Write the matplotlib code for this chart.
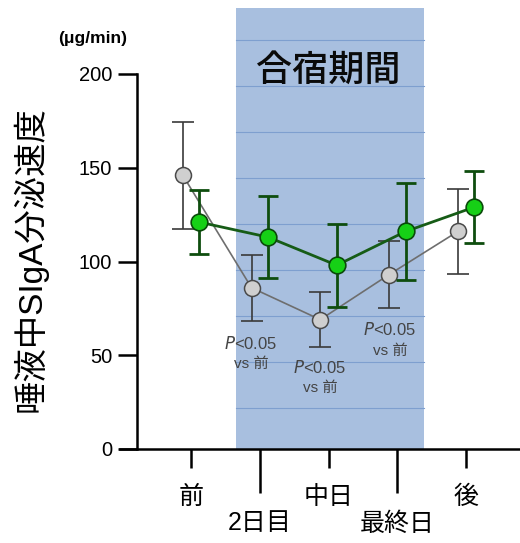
import matplotlib
matplotlib.use("Agg")
import matplotlib.pyplot as plt
import numpy as np

plt.rcParams["font.family"] = ["Liberation Sans", "Noto Sans CJK JP"]

# categories and values
CATEGORIES = ["前", "2日目", "中日", "最終日", "後"]
GRAY_MEAN = [146, 86, 69, 93, 116]
GRAY_ERR = [28.5, 17.5, 14.5, 18, 22.5]
GREEN_MEAN = [121, 113, 98, 116, 129]
GREEN_ERR = [17, 22, 22, 26, 19]
Y_TICKS = [0, 50, 100, 150, 200]
BAND_LINES = [21.9, 46.4, 71.0, 95.5, 120.0, 144.6, 169.1, 193.6, 218.2]
SIG_LABELS = [(1, "vs 前"), (2, "vs 前"), (3, "vs 前")]

fig = plt.figure(figsize=(5.2, 5.43), dpi=100)
ax = fig.add_axes([120 / 520, 94 / 543, 400 / 520, 441 / 543])
ax.set_xlim(-1.033, 4.785)
ax.set_ylim(0, 235.2)

x = np.arange(len(CATEGORIES))

# training-camp band
ax.axvspan(0.65, 3.39, color="#a8bfdf", zorder=0, lw=0)
for v in BAND_LINES:
    ax.plot([0.65, 3.39], [v, v], color="#7e9fcf", lw=0.8, zorder=0.5)
ax.text(2.0, 201.5, "合宿期間", ha="center", va="center", fontsize=26,
        color="#0a0a0a", fontweight="medium")

# gray series
ax.plot(x - 0.12, GRAY_MEAN, color="#6e6e6e", lw=1.2, zorder=2)
ax.errorbar(x - 0.12, GRAY_MEAN, yerr=GRAY_ERR, fmt="none", ecolor="#3a3a3a",
            elinewidth=1.2, capsize=8, capthick=1.2, zorder=2)
ax.plot(x - 0.12, GRAY_MEAN, "o", ms=11.5, mfc="#cfcfcf", mec="#4a4a4a",
        mew=1.1, zorder=3)

# green series
ax.plot(x + 0.12, GREEN_MEAN, color="#165c16", lw=2.0, zorder=4)
ax.errorbar(x + 0.12, GREEN_MEAN, yerr=GREEN_ERR, fmt="none", ecolor="#0e4d0e",
            elinewidth=2.0, capsize=7, capthick=2.0, zorder=4)
ax.plot(x + 0.12, GREEN_MEAN, "o", ms=12, mfc="#16d016", mec="#0a4a0a",
        mew=1.2, zorder=5)

# significance annotations
sig_pos = {1: (0.873, 56.5), 2: (1.876, 43.7), 3: (2.895, 63.5)}
for idx, lab in SIG_LABELS:
    px, py = sig_pos[idx]
    ax.text(px, py, r"$\it{P}$<0.05", ha="center", va="center", fontsize=12,
            color="#444444")
    ax.text(px, py - 11, lab, ha="center", va="center", fontsize=11,
            color="#444444")

# axes styling
for s in ["top", "right"]:
    ax.spines[s].set_visible(False)
ax.spines["left"].set_position(("data", -0.785))
ax.spines["left"].set_bounds(0, 200)
ax.spines["left"].set_linewidth(1.8)
ax.spines["bottom"].set_linewidth(1.8)

ax.set_yticks(Y_TICKS)
ax.set_yticklabels([str(v) for v in Y_TICKS], fontsize=14.5)
ax.tick_params(axis="y", length=14, width=1.8, pad=4, direction="out")

ax.set_xticks([0, 2, 4])
ax.set_xticklabels([CATEGORIES[0], CATEGORIES[2], CATEGORIES[4]], fontsize=18)
ax.set_xticks([1, 3], minor=True)
ax.set_xticklabels([CATEGORIES[1], CATEGORIES[3]], minor=True, fontsize=18)
ax.tick_params(axis="x", which="major", length=14, width=1.8, pad=12)
ax.tick_params(axis="x", which="minor", length=32, width=1.8, pad=13)

fig.text(30 / 520, 1 - 259 / 543, "唾液中SIgA分泌速度", rotation=90,
         ha="center", va="center", fontsize=24)
fig.text(93 / 520, 1 - 38 / 543, "(μg/min)", ha="center", va="center",
         fontsize=12.5, fontweight="bold")

fig.savefig("out.png", dpi=100)
